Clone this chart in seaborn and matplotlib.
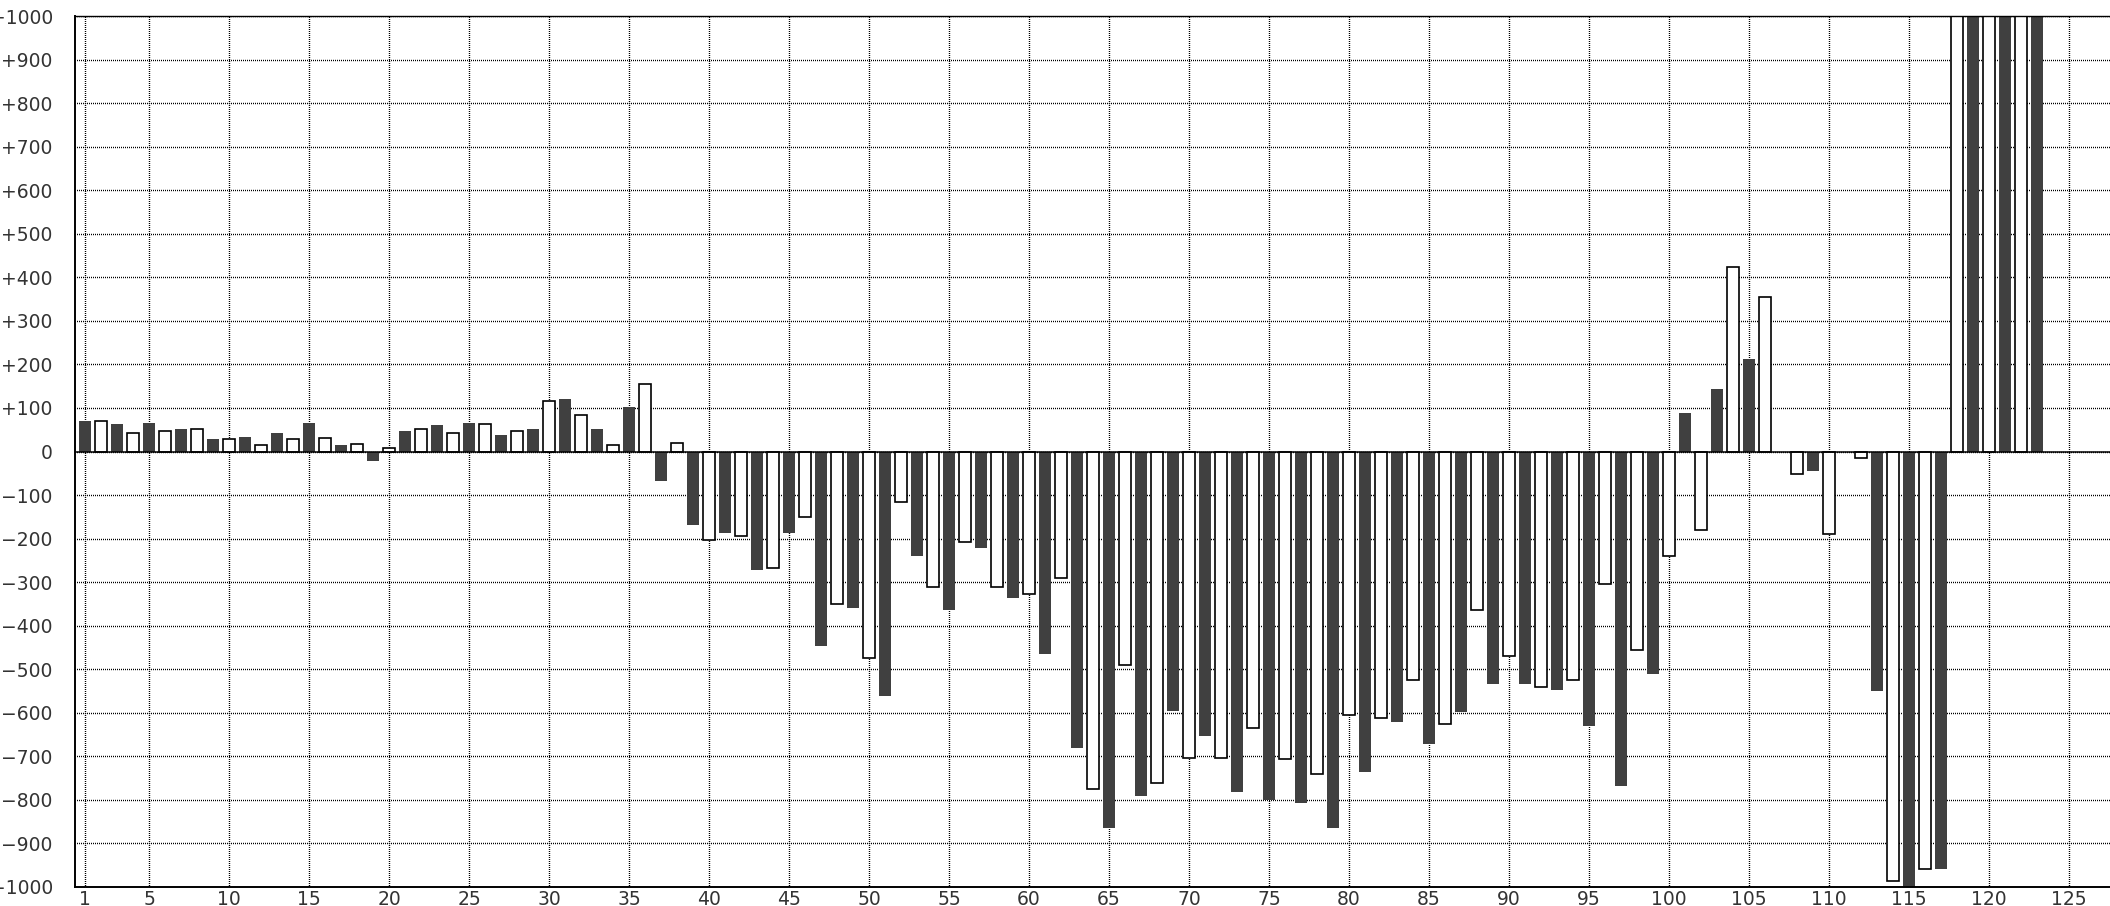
import numpy as np
import pandas as pd
import matplotlib.pyplot as plt
import seaborn as sns

# odd positions -> dark bars, even positions -> white bars
dark_pos = list(range(1, 124, 2))
dark_vals = [71, 62, 66, 52, 29, 34, 43, 66, 15, -22,
             48, 61, 66, 38, 52, 121, 52, 103, -67, -168,
             -186, -273, -186, -447, -360, -561, -241, -365, -222, -337,
             -465, -681, -865, -792, -595, -654, -783, -801, -806, -865,
             -736, -621, -671, -598, -534, -534, -548, -630, -767, -511,
             89, 144, 213, 0, -44, 0, -551, -1050, -959, 1200,
             1200, 1200]

white_pos = list(range(2, 123, 2))
white_vals = [69, 42, 46, 51, 28, 14, 28, 32, 18, 9,
              51, 42, 64, 46, 115, 83, 14, 156, 19, -203,
              -194, -267, -151, -350, -474, -116, -312, -207, -312, -327,
              -290, -776, -491, -762, -704, -704, -634, -707, -740, -606,
              -612, -524, -625, -364, -469, -541, -524, -304, -455, -240,
              -180, 423, 354, -52, -190, -15, -986, -959, 1200, 1200,
              1200]

xtick_vals = [1] + list(range(5, 126, 5))
ytick_vals = list(range(-1000, 1001, 100))
ytick_labels = [('+%d' % v) if v > 0 else ('0' if v == 0 else '\u2212%d' % -v) for v in ytick_vals]

df_dark = pd.DataFrame({'pos': dark_pos, 'val': dark_vals})
df_white = pd.DataFrame({'pos': white_pos, 'val': white_vals})

fig = plt.figure(figsize=(21.1, 9.06), dpi=100)
ax = fig.add_axes([75/2110, 19/906, 1 - 75/2110, 871/906])

# 1px dots, 1px gaps (offset keeps the dashes on the pixel grid)
ax.grid(True, color='black', linestyle=(0.36, (0.72, 0.72)), linewidth=1.0)
ax.set_axisbelow(True)

sns.barplot(data=df_dark, x='pos', y='val', native_scale=True, orient='x',
            width=0.36, color='#404040', saturation=1, errorbar=None,
            linewidth=0, ax=ax)
sns.barplot(data=df_white, x='pos', y='val', native_scale=True, orient='x',
            width=0.36, color='white', saturation=1, errorbar=None,
            edgecolor='black', linewidth=1.2, ax=ax)

ax.axhline(0, color='black', lw=1.1, zorder=3)

ax.set_xlim(0.375, 127.56)
ax.set_ylim(-1000, 1000)
ax.set_xticks(xtick_vals)
ax.set_yticks(ytick_vals, ytick_labels)
ax.set_xlabel('')
ax.set_ylabel('')
ax.tick_params(length=0, labelsize=13.5, colors='#333333')
ax.tick_params(axis='y', pad=16)
ax.tick_params(axis='x', pad=2)

ax.spines['right'].set_visible(False)
ax.spines['left'].set_linewidth(1.4)
ax.spines['bottom'].set_linewidth(1.4)
ax.spines['top'].set_linewidth(1.0)

fig.savefig('out.png', dpi=100)
